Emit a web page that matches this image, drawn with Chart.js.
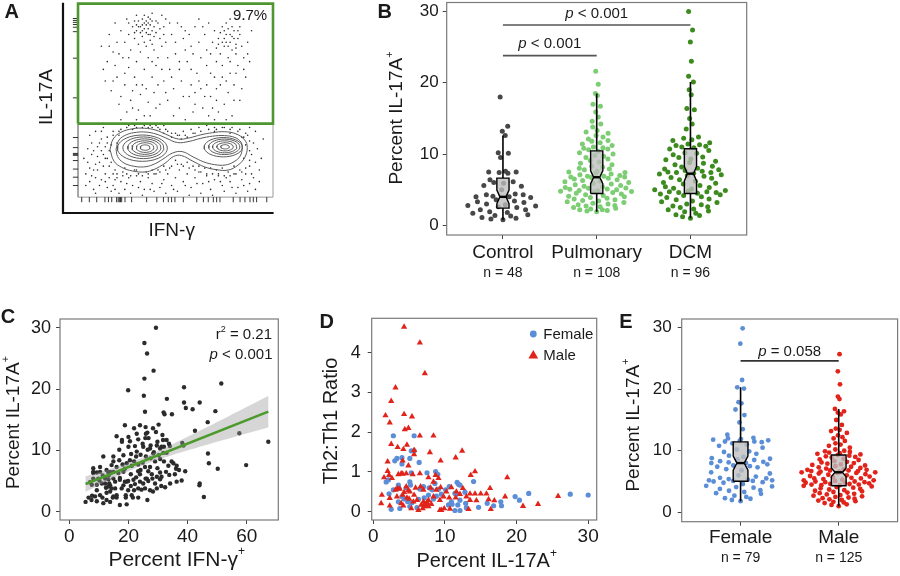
<!DOCTYPE html>
<html>
<head>
<meta charset="utf-8">
<script src="https://cdn.jsdelivr.net/npm/chart.js@4.4.1/dist/chart.umd.min.js"></script>
<style>
  html, body { margin: 0; background: #fff; overflow: hidden; }
  #wrap { position: relative; width: 900px; height: 576px; }
  canvas { position: absolute; left: 0; top: 0; }
</style>
</head>
<body>
<div id="wrap">
  <canvas id="cA" width="900" height="576"></canvas>
  <canvas id="cB" width="900" height="576"></canvas>
  <canvas id="cC" width="900" height="576"></canvas>
  <canvas id="cD" width="900" height="576"></canvas>
  <canvas id="cE" width="900" height="576"></canvas>
</div>
<script>
// ---------- panel A: flow plot (arbitrary 0-100 units) ----------
const gateLabel = '9.7%';
const gateDots = [[32,88],[34,90],[36,87],[38,91],[35,85],[30,86],[33,83],[37,84],[39,88],[31,91],[36,93],[34,80],[40,85],[29,82],[38,79],[35,89],[33,92],[37,89],[41,90],[28,88],[26,84],[31,79],[42,82],[44,88],[39,76],[27,76],[24,80],[45,92],[22,86],[43,78],[36,72],[30,70],[34,66],[38,62],[33,58],[29,62],[40,68],[26,67],[32,53],[36,49],[31,45],[37,42],[35,56],[28,55],[41,58],[23,72],[20,62],[18,75],[15,70],[17,55],[21,48],[25,44],[14,60],[12,78],[19,90],[48,84],[51,90],[54,82],[50,74],[56,70],[47,66],[53,60],[58,78],[60,88],[62,92],[57,52],[52,46],[46,50],[49,42],[55,40],[61,64],[63,72],[65,84],[67,90],[70,86],[72,82],[74,88],[76,84],[78,80],[80,86],[75,78],[73,74],[79,76],[82,82],[77,72],[71,70],[84,78],[81,74],[76,90],[69,80],[74,68],[78,64],[82,68],[85,72],[87,80],[83,88],[70,62],[73,58],[77,54],[80,58],[75,48],[72,44],[79,42],[83,50],[86,62],[68,52],[66,58],[64,46],[67,42],[71,50],[58,58],[60,48],[44,60],[42,48],[46,72],[39,54],[24,58],[27,50],[16,84],[13,66],[22,40],[30,40],[88,70],[89,86],[85,92],[78,92],[66,76],[62,80],[55,86],[43,94],[38,95],[30,94],[25,92],[20,80],[19,68],[26,72],[32,75],[41,72],[45,80],[49,56],[54,52],[59,44],[63,56],[69,46],[74,62],[81,64],[84,56],[76,40],[70,40],[52,66],[35,78],[37,81],[33,86],[29,91],[39,83],[42,87],[73,85],[77,87],[75,82],[79,83],[71,77],[81,79],
  [33,89],[35,91],[36,84],[32,85],[34,87],[38,86],[30,89],[37,92],[34,94],[31,88],[40,91],[29,85],[36,90],[78,84],[80,82],[76,80],[82,86],[74,80],[79,88],[77,78],[83,84],[75,86],[81,77],[72,79],[78,70],[26,90],[44,84],[47,90],[50,80],[53,88],[57,84],[59,74],[64,88],[66,68],[68,74],[55,76],[52,70],[48,62],[45,54],[40,46],[34,42],[28,46],[22,52],[18,60],[16,78],[21,74],[24,64],[30,58],[43,66],[38,70],[62,60],[65,52],[60,54],[71,56],[76,60],[80,50],[85,66],[87,74],[68,64],[58,66]];
const lowerDots = [[5,18],[7,22],[8,14],[10,26],[9,10],[11,18],[12,30],[13,22],[14,12],[6,8],[8,4],[11,6],[13,16],[12,34],[15,28],[14,8],[10,14],[7,28],[4,12],[9,2],[16,10],[18,6],[20,12],[22,8],[24,4],[26,10],[28,6],[30,11],[32,8],[34,4],[36,10],[38,7],[40,12],[42,5],[44,9],[46,12],[48,6],[50,10],[52,14],[54,8],[56,12],[58,5],[60,10],[62,13],[64,7],[66,11],[68,4],[70,9],[72,12],[74,6],[76,10],[78,8],[80,12],[82,5],[84,9],[86,12],[88,7],[90,10],[17,3],[21,2],[27,2],[33,1],[39,3],[45,2],[51,3],[57,1],[63,2],[69,1],[75,3],[81,2],[87,3],[19,9],[23,13],[29,14],[35,13],[41,14],[47,15],[53,17],[59,16],[65,15],[71,14],[77,13],[83,14],[88,16],[89,22],[90,28],[87,32],[91,18],[92,25],[89,12],[18,32],[22,35],[26,37],[30,36],[34,37],[38,36],[42,35],[46,34],[50,33],[54,34],[58,35],[62,36],[66,37],[70,36],[74,36],[78,35],[82,34],[85,31],[20,28],[16,24],[48,31],[53,30],[56,31],[40,37],[44,37],[36,38],[32,38],[28,38],[60,38],[64,38],[17,18],[19,14],[24,15],[30,14],[38,14],[44,16],[50,19],[56,18],[62,16],[68,15],[74,15],[80,16],[85,20],[86,27],[84,31],[78,33],[70,34],[60,33],[52,32],[44,33],[36,36],[28,35],[21,32],[17,27],
  [15,20],[16,16],[18,12],[20,10],[23,11],[25,12],[27,11],[31,12],[33,11],[36,12],[39,12],[42,13],[45,14],[48,16],[51,17],[54,16],[57,15],[60,14],[63,13],[66,12],[69,12],[72,11],[75,11],[78,11],[81,12],[84,13],[86,15],[88,19],[88,24],[88,29],[86,33],[83,35],[79,36],[75,36],[71,35],[67,35],[63,34],[59,33],[55,32],[51,32],[48,33],[45,35],[41,36],[37,37],[33,36],[29,37],[25,36],[21,34],[18,34],[15,31],[14,26],[14,20],[12,24],[11,28],[10,21],[9,17],[8,24],[6,15],[5,25],[3,20],[6,32],[9,34],[13,36],[4,6],[7,11],[12,9],[15,5],[19,4],[25,7],[31,5],[37,4],[43,7],[49,4],[55,6],[61,7],[67,8],[73,8],[79,5],[85,6],[91,4],[93,14],[94,20],[95,30],[91,34],[88,36],[93,8]];
// nested contour levels: [centre x, centre y, radius x, radius y]
const ringsLeft = [[34.4,25.6,2.5,1.4],[34.4,25.6,4.5,2.5],[34.2,25.6,6.5,3.5],[34,25.6,8.5,4.5],[33.5,25.5,10.5,5.6],[33,25.3,12.8,6.8]];
const ringsRight = [[75.4,26,2.2,1.1],[75.4,26,4.2,2.1],[75.2,26,6.2,3.1],[75,26,8,4],[74.5,25.8,9.8,5]];
const outerContours = [
  [[16.4,24.5],[18,30],[22,33.5],[28,35.3],[34,35.6],[40,34.6],[45,32.5],[51.5,30],[57,30.6],[63,32.2],[69,33.3],[75,33.8],[81,32.7],[85.5,29.5],[86.8,25.6],[85.5,20.5],[82,16.5],[77,14],[71,14.2],[65,15.6],[59,18.5],[53,21.5],[49,21],[44.6,17.5],[39,14.3],[34.4,13],[28,13.5],[22.4,15.4],[18.5,18.5],[16.4,24.5]],
  [[19.5,24.8],[21,29.5],[25,32.3],[30,33.5],[35,33.6],[40,32.6],[45,30.6],[51,28.2],[57,28.8],[63,30.4],[69,31.5],[75,31.8],[80.5,30.8],[83.5,28.5],[84.2,25.6],[83.2,21.3],[80,18.3],[75.5,16.6],[70,16.8],[64.5,18.2],[59,20.8],[53.5,23.5],[48.5,22.8],[43.5,19.6],[38.5,16.8],[33.5,15.6],[27.5,16.2],[23,18],[20.3,21],[19.5,24.8]]
];
const ticksLeftA = [92.3,91.3,90.3,89.2,87.8,85.5,71.8,51.3,30.8,25.6,22.6,22.1,21.6,18.9,14.5,10.3,6.0];
const ticksBottomA = [1.9,5.8,9.6,13.8,15.6,17.3,19.8,20.6,21.2,21.8,22.4,24.1,27.5,35.2,40.4,43.8,46.3,48.0,49.7,54.0,60.9,64.3,66.8,69.4,71.1,72.8,79.6,83.1,85.6,88.2,89.9,91.6,96.8];

// ---------- panel B ----------
const groupsB = ['Control', 'Pulmonary', 'DCM'];
const nLabelsB = ['n = 48', 'n = 108', 'n = 96'];
const controlPct = [18.0,13.9,13.2,12.6,10.2,10.1,9.5,7.6,7.5,7.5,7.3,7.4,6.4,6.1,6.0,5.9,5.6,5.5,4.4,4.3,4.3,4.1,4.0,4.0,3.9,3.6,3.4,3.2,3.0,2.9,2.8,2.7,2.6,2.5,2.2,2.2,1.9,1.8,1.7,1.5,1.4,1.3,1.1,1.0,0.9,0.8,5.0,3.3];
const pulmonaryPct = [21.6,19.8,18.5,18.2,17.0,16.7,15.9,15.2,14.6,14.2,13.8,13.3,13.1,12.9,12.6,12.4,12.1,11.9,11.8,11.6,11.4,11.2,11.0,10.9,10.8,10.7,10.6,
  10.4,10.2,10.0,9.8,9.7,9.5,9.3,9.1,8.9,8.7,8.5,8.3,8.2,8.0,7.9,7.8,7.6,7.5,7.4,7.3,7.2,7.1,7.0,6.9,6.9,6.8,6.8,
  6.7,6.6,6.5,6.4,6.3,6.2,6.1,6.0,5.9,5.8,5.7,5.6,5.5,5.4,5.3,5.25,5.2,5.1,5.05,5.0,4.9,4.85,4.8,4.75,4.7,4.6,4.5,
  4.4,4.3,4.2,4.1,4.0,3.9,3.8,3.7,3.6,3.5,3.4,3.3,3.2,3.1,3.0,2.9,2.8,2.7,2.6,2.5,2.4,2.3,2.2,2.2,2.1,2.0,1.9];
const dcmPct = [30.0,27.4,25.7,23.0,20.9,20.1,19.0,18.3,16.4,16.2,15.0,14.2,13.5,12.4,12.2,12.0,11.9,11.6,11.4,11.3,11.2,11.1,11.0,10.9,
  10.7,10.5,10.2,10.1,9.9,9.6,9.5,9.3,9.2,9.0,8.8,8.7,8.5,8.3,8.2,8.0,7.9,7.8,7.7,7.6,7.5,7.4,7.4,7.3,
  7.2,7.1,7.0,6.9,6.7,6.6,6.4,6.2,6.0,5.9,5.8,5.6,5.4,5.3,5.2,5.1,5.0,4.9,4.8,4.7,4.7,4.6,4.6,4.5,
  4.4,4.3,4.2,4.0,3.9,3.7,3.6,3.4,3.3,3.2,3.0,2.9,2.7,2.6,2.5,2.3,2.2,2.0,1.9,1.7,1.5,1.4,1.2,1.0];
const colorsB = ['#474747', '#7ccd73', '#3d8b1f'];
const ticksPct = [0, 10, 20, 30];

// ---------- panel C ----------
const ifngVsIl17 = [[29.3,30.0],[25.4,27.5],[26.3,25.8],[28.5,23.0],[25.4,21.7],[19.9,19.8],[38.8,20.3],[51.4,20.9],[25.2,18.9],[33.0,18.4],[38.8,17.8],[39.4,16.9],[44.1,17.8],[41.7,16.7],[49.4,16.4],[25.6,16.3],[31.9,16.2],[32.2,15.9],[34.7,15.9],[46.8,14.6],[57.5,12.8],[67.3,11.4],[59.8,7.6],[45.5,2.4],[50.2,7.0],[46.9,9.5],[47.2,7.9],[44.1,4.6],[44.0,4.3],[42.5,13.2],[38.2,11.2],[38.6,10.8],[39.2,6.6],[38.0,5.1],
[18.8,14.1],[17.8,11.7],[17.8,11.4],[16.0,12.3],[20.0,10.6],[21.9,13.6],[22.8,12.7],[23.9,14.1],[25.8,13.8],[26.4,12.9],[26.8,12.0],[28.3,13.6],[30.2,14.2],[29.3,13.0],[31.5,12.5],[31.7,11.7],[32.9,11.7],[33.7,11.1],[34.0,10.7],[31.2,10.6],[29.6,10.8],[25.0,10.6],[26.5,10.1],[28.6,9.7],[30.2,9.2],[31.8,9.6],[32.9,9.6],[22.8,9.8],[20.9,9.4],[18.3,9.2],[16.9,8.4],[14.9,8.2],[11.5,9.0],[8.1,7.1],[8.1,6.5],[10.4,6.5],[12.6,6.8],[13.4,6.0],[14.9,6.5],[16.6,6.3],[18.8,7.0],[19.4,7.9],[21.1,7.5],[21.9,8.2],[23.3,7.7],[24.8,8.0],[25.6,7.3],[24.1,6.8],[26.7,6.6],[27.3,7.3],[29.0,8.2],[29.8,7.1],[30.7,6.4],[32.0,8.2],[33.5,7.5],[35.2,7.9],[36.3,7.5],[37.1,6.8],[36.1,7.0],[30.7,5.3],[31.1,4.2],[32.4,4.0],[29.0,4.6],[28.1,5.4],[26.7,5.0],[25.6,3.8],[24.4,3.6],[23.3,3.8],[22.2,4.5],[20.8,4.2],[19.9,5.0],[19.1,2.7],[19.1,2.3],[17.1,1.1],[19.4,1.2],[21.1,2.7],[21.5,2.3],[23.3,2.3],[26.4,1.9],[27.3,3.5],[29.6,3.8],[25.8,5.4],[16.0,2.7],[16.0,2.3],[14.9,2.5],[13.8,3.3],[12.6,3.1],[13.2,4.1],[13.8,4.3],[12.4,3.9],[14.3,3.8],[13.5,4.6],[15.5,4.9],[17.1,5.5],[14.9,5.4],[12.1,5.4],[11.0,4.6],[9.8,5.4],[8.1,6.3],[9.3,3.5],[10.4,2.7],[11.2,2.3],[11.5,1.4],[9.3,1.7],[7.7,2.6],[6.5,2.3],[5.5,1.6],[7.5,1.9],[8.7,2.5],[12.6,1.9],[13.8,1.6],[14.7,2.3],[9.3,6.4],[7.0,4.8],[7.6,4.4],[10.2,5.1],[11.3,5.9],[13.2,6.4],[16.0,7.3],[18.3,6.5],[20.8,6.1],[22.6,5.6],[17.1,5.2],[19.4,4.9],[23.9,6.1],[25.0,4.6],[27.9,6.1],[20.5,8.4],[22.6,9.0],[24.1,9.3],[25.9,9.0],[27.5,8.7],[30.7,8.6],[18.0,7.7],[14.3,7.6],[13.2,5.3],[12.1,4.6],[15.5,3.8],[17.7,3.8],[18.3,4.3],[21.7,5.2],[23.9,4.9],[9.3,4.4],[8.1,5.4],[10.4,7.3],[13.8,6.5],[14.9,9.0],[16.9,10.1],[20.5,11.5],[24.8,11.1],[27.5,10.8],[29.8,11.4],[32.0,10.6],[22.2,10.7],[23.3,11.8],[25.7,12.0],[25.9,12.7],[20.0,12.2],[32.7,6.5],[29.6,5.7],[34.1,4.6],[33.8,6.0],[31.2,5.7],[26.2,5.4],[23.3,6.6],[18.8,4.9],[19.9,3.5],[21.9,3.5],[28.3,3.3],[35.7,6.1],[36.3,4.9],[34.6,8.2],[30.7,10.3],[28.4,9.5],[27.3,10.3]];
const ticksIfng = [0, 20, 40, 60];

// ---------- panel D ----------
const femaleRatio = [[2.8,1.91],[5.7,1.91],[5.7,1.53],[5.3,1.53],[5.1,1.34],[4.0,1.36],[3.3,1.34],[3.0,1.28],[4.0,1.20],[6.4,1.24],[7.5,0.98],[8.7,1.01],[9.0,0.94],[5.3,0.98],[2.1,0.80],[1.8,0.75],[5.1,0.75],[5.2,0.67],[3.6,0.59],[2.8,0.55],[6.5,0.57],[7.8,0.60],[8.2,0.55],[9.1,0.57],[10.6,0.63],[10.1,0.55],[11.7,0.74],[11.9,0.69],[11.4,0.46],[11.6,0.44],[12.8,0.49],[14.0,0.76],[2.2,0.45],[4.0,0.38],[4.3,0.32],[4.8,0.25],[3.5,0.25],[5.4,0.23],[6.3,0.31],[7.1,0.35],[7.7,0.42],[8.4,0.32],[8.8,0.39],[9.5,0.44],[10.9,0.25],[11.0,0.19],[12.1,0.29],[11.8,0.17],[12.9,0.21],[13.0,0.10],[14.7,0.11],[15.9,0.21],[16.8,0.15],[17.8,0.25],[17.9,0.15],[19.8,0.38],[20.4,0.29],[21.7,0.46],[27.5,0.44],[30.0,0.42],[2.5,0.06],[3.7,0.08],[5.1,0.13],[6.1,0.10],[11.4,0.03],[12.1,0.03],[10.5,0.17],[4.6,0.60],[7.0,0.63],[3.5,0.67],[8.6,0.71],[12.1,0.67]];
const maleRatio = [[4.3,4.65],[6.5,4.25],[7.2,3.48],[3.1,3.12],[2.5,2.78],[1.7,2.42],[2.3,2.24],[4.3,2.45],[5.4,2.39],[4.4,2.07],[4.9,2.10],[6.5,1.91],[8.4,1.91],[2.5,1.70],[3.4,1.62],[4.2,1.57],[4.7,1.68],[5.7,1.55],[5.7,1.44],[7.9,1.49],[9.4,1.28],[11.5,1.36],[12.4,1.53],[2.0,1.26],[4.1,1.28],[4.9,1.16],[2.0,1.02],[2.2,0.92],[1.5,0.86],[2.6,0.84],[3.5,0.94],[3.9,0.96],[4.1,0.95],[4.6,0.96],[5.5,0.94],[6.5,0.96],[7.7,0.86],[9.1,0.84],[8.7,0.92],[13.6,0.92],[14.2,1.01],[18.7,0.86],[3.4,0.59],[3.7,0.57],[4.6,0.63],[4.9,0.54],[5.9,0.60],[6.6,0.63],[7.0,0.55],[8.0,0.60],[8.4,0.75],[9.4,0.61],[11.6,0.50],[12.5,0.59],[13.5,0.45],[14.2,0.45],[15.0,0.45],[15.8,0.45],[16.3,0.59],[1.2,0.42],[2.3,0.34],[3.3,0.38],[4.1,0.42],[4.7,0.35],[5.0,0.32],[5.7,0.42],[6.1,0.29],[7.0,0.25],[7.2,0.20],[6.7,0.17],[7.7,0.29],[8.4,0.38],[9.3,0.29],[9.8,0.38],[10.6,0.35],[11.5,0.35],[12.1,0.44],[13.0,0.38],[13.5,0.29],[14.4,0.28],[16.1,0.31],[16.9,0.28],[18.4,0.38],[20.9,0.14],[23.0,0.19],[25.8,0.39],[16.4,0.06],[13.3,0.06],[2.3,0.15],[1.1,0.21],[4.2,0.15],[5.3,0.08],[6.3,0.04],[6.9,0.08],[7.1,0.13],[7.4,0.17],[7.7,0.13],[9.5,0.04],[9.3,0.04],[9.9,0.08],[10.7,0.07],[7.5,0.24],[8.1,0.19],[5.6,0.25],[3.9,0.21],[5.1,0.50],[3.1,0.55],[4.3,0.49],[8.8,0.55],[10.2,0.50],[10.9,0.61]];
const ticksRatio = [0, 1, 2, 3, 4];
const ticksIl17 = [0, 10, 20, 30];

// ---------- panel E ----------
const groupsE = ['Female', 'Male'];
const nLabelsE = ['n = 79', 'n = 125'];
const femalePct = [29.9,27.4,21.5,20.3,20.1,17.9,17.7,16.7,15.8,14.6,13.5,12.6,12.1,12.0,11.9,11.8,11.7,11.6,11.5,11.5,
  11.4,11.2,11.0,10.8,10.5,10.2,9.9,9.8,9.5,9.2,9.0,8.8,8.7,8.6,8.5,8.3,8.2,8.1,8.0,8.0,
  7.8,7.6,7.5,7.4,7.3,7.0,6.8,6.5,6.3,6.0,5.8,5.6,5.5,5.4,5.3,5.2,5.2,5.1,5.1,
  5.0,4.9,4.8,4.6,4.3,4.2,4.1,4.0,3.8,3.6,3.5,3.3,3.1,3.0,2.7,2.5,2.3,2.2,2.0,1.8];
const malePct = [25.7,22.9,20.8,18.8,18.4,16.8,16.4,16.2,15.9,15.0,14.2,13.6,13.4,13.2,12.9,12.5,12.2,12.0,11.6,11.2,11.0,10.8,10.5,10.2,10.0,9.9,9.8,9.7,9.6,9.5,9.4,
  9.3,9.2,9.1,9.0,8.9,8.7,8.6,8.5,8.3,8.2,8.1,8.0,7.9,7.8,7.7,7.6,7.5,7.4,7.3,7.2,7.1,7.0,6.9,6.9,6.8,6.8,6.7,6.7,6.6,6.6,6.5,6.5,
  6.4,6.4,6.3,6.2,6.1,6.0,5.9,5.8,5.7,5.6,5.5,5.5,5.4,5.3,5.2,5.2,5.1,5.0,5.0,4.9,4.9,4.8,4.8,4.7,4.6,4.6,4.5,4.5,4.4,4.4,4.3,
  4.2,4.1,4.0,3.9,3.8,3.7,3.6,3.5,3.4,3.3,3.2,3.1,3.0,2.9,2.8,2.7,2.6,2.5,2.4,2.3,2.2,2.1,2.0,1.9,1.8,1.7,1.6,1.5,1.3,1.2,1.0];
const colorFemale = '#5b8ed6';
const colorMale = '#e2231a';

// ---------- helpers ----------
const FONT = "'Liberation Sans', Arial, Helvetica, sans-serif";
const INK = '#1a1a1a';
const f = (s, st) => (st ? st + ' ' : '') + s + 'px ' + FONT;
const xy = arr => arr.map(p => ({ x: p[0], y: p[1] }));

function fixSize(size) {
  return s => {
    if (s.isHorizontal()) s.height = size; else s.width = size;
    s.paddingTop = s.paddingBottom = s.paddingLeft = s.paddingRight = 0;
  };
}
function axis(min, max, ticks, size, pad, fontSize, cb) {
  return {
    type: 'linear', min, max,
    afterBuildTicks: s => { s.ticks = ticks.map(v => ({ value: v })); },
    afterFit: fixSize(size),
    ticks: { autoSkip: false, maxRotation: 0, padding: pad, color: INK, font: { family: FONT, size: fontSize }, callback: cb || (v => v) },
    grid: { drawOnChartArea: false, drawTicks: true, tickLength: 4, color: '#444', lineWidth: 1 },
    border: { display: false }
  };
}
const pts = (data, color, r, style, order) => ({ data, showLine: false, pointRadius: r, pointHoverRadius: r, pointStyle: style || 'circle', pointBackgroundColor: color, pointBorderColor: color, pointBorderWidth: 0, order });
const path = (data, color, w, order, extra) => Object.assign({ data, showLine: true, borderColor: color, borderWidth: w, pointRadius: 0, fill: false, tension: 0, order, clip: false }, extra || {});

function rich(ctx, x, y, parts, align, rot) {
  ctx.save();
  ctx.translate(x, y);
  if (rot) ctx.rotate(rot);
  ctx.textBaseline = 'middle';
  ctx.textAlign = 'left';
  ctx.fillStyle = INK;
  let w = 0;
  parts.forEach(p => { ctx.font = p[1]; w += ctx.measureText(p[0]).width; });
  let cx = align === 'center' ? -w / 2 : align === 'right' ? -w : 0;
  parts.forEach(p => { ctx.font = p[1]; ctx.fillText(p[0], cx, p[2] || 0); cx += ctx.measureText(p[0]).width; });
  ctx.restore();
}
function frame(chart) {
  const a = chart.chartArea, ctx = chart.ctx;
  ctx.save();
  ctx.strokeStyle = '#7a7a7a';
  ctx.lineWidth = 1.2;
  ctx.strokeRect(a.left, a.top, a.right - a.left, a.bottom - a.top);
  ctx.restore();
}
function quantile(s, p) {
  const h = (s.length - 1) * p, lo = Math.floor(h);
  const hi = Math.min(lo + 1, s.length - 1);
  return s[lo] + (h - lo) * (s[hi] - s[lo]);
}
// quasirandom jitter (van der Corput order, scaled by the group's density)
function quasirandom(vals, pos, width) {
  const n = vals.length, s = [...vals].sort((a, b) => a - b);
  const mean = s.reduce((a, v) => a + v, 0) / n;
  const sd = Math.sqrt(s.reduce((a, v) => a + (v - mean) ** 2, 0) / (n - 1));
  const iqr = quantile(s, 0.75) - quantile(s, 0.25);
  const bw = 0.5 * 0.9 * Math.min(sd, iqr / 1.34) * Math.pow(n, -0.2);
  const dens = v => s.reduce((a, u) => a + Math.exp(-0.5 * ((v - u) / bw) ** 2), 0);
  const dv = s.map(dens), dmax = Math.max(...dv);
  const vdc = k => { let r = 0, b = 0.5; while (k > 0) { if (k & 1) r += b; k >>= 1; b /= 2; } return r; };
  return s.map((v, rank) => ({ x: pos + (vdc(rank + 1) - 0.5) * 2 * width * dv[rank] / dmax, y: v }));
}
function boxDatasets(pos, vals, hw) {
  const s = [...vals].sort((a, b) => a - b);
  const q1 = quantile(s, 0.25), med = quantile(s, 0.5), q3 = quantile(s, 0.75), iqr = q3 - q1;
  const lo = s.find(v => v >= q1 - 1.5 * iqr);
  const hi = [...s].reverse().find(v => v <= q3 + 1.5 * iqr);
  const nt = 1.58 * iqr / Math.sqrt(s.length);
  const outline = [[-1, q1], [1, q1], [1, med - nt], [0.5, med], [1, med + nt], [1, q3], [-1, q3], [-1, med + nt], [-0.5, med], [-1, med - nt], [-1, q1]]
    .map(([dx, y]) => ({ x: pos + dx * hw, y }));
  return [
    path([{ x: pos, y: lo }, { x: pos, y: q1 }, { x: pos, y: null }, { x: pos, y: q3 }, { x: pos, y: hi }], '#000', 1.6, 4, { spanGaps: false }),
    path(outline, '#000', 1.4, 3, { fill: 'shape', backgroundColor: 'rgba(190,190,190,0.78)' }),
    path([{ x: pos - hw * 0.5, y: med }, { x: pos + hw * 0.5, y: med }], '#000', 2.4, 2)
  ];
}
function makeChart(id, area, yW, xH, datasets, scales, deco) {
  return new Chart(document.getElementById(id), {
    type: 'line',
    data: { datasets },
    options: {
      responsive: false, animation: false, events: [],
      layout: { padding: { left: area[0] - yW, top: area[1], right: 900 - area[2], bottom: 576 - area[3] - xH } },
      plugins: { legend: { display: false }, tooltip: { enabled: false } },
      scales
    },
    plugins: [{ id: 'deco', afterDraw: c => deco(c, c.ctx) }]
  });
}
const pctTitle = size => [['Percent IL-17A', f(size)], ['+', f(Math.round(size * 0.6)), -size * 0.38]];

// ---------- A ----------
const ring = ([cx, cy, rx, ry]) => Array.from({ length: 37 }, (_, k) => ({ x: cx + rx * Math.cos(k * Math.PI / 18), y: cy + ry * Math.sin(k * Math.PI / 18) }));
const dsA = [
  pts(xy(gateDots.concat(lowerDots)), '#2a2a2a', 0.8, 'circle', 9),
  ...ringsLeft.concat(ringsRight).map(r => path(ring(r), '#5a5a5a', 1, 8)),
  ...outerContours.map(c => path(xy(c), '#5a5a5a', 1, 8, { tension: 0.4 })),
  path(xy([[0, 0], [100, 0], [100, 100], [0, 100], [0, 0]]), '#9a9a9a', 1, 7),
  Object.assign(pts(ticksLeftA.map(v => ({ x: -1.3, y: v })), '#333', 2.6, 'line', 6), { pointBorderWidth: 1, clip: false }),
  Object.assign(pts(ticksBottomA.map(v => ({ x: v, y: -1.3 })), '#333', 2.6, 'line', 6), { pointBorderWidth: 1, pointRotation: 90, clip: false }),
  path(xy([[0, 38], [100, 38], [100, 100], [0, 100], [0, 38]]), '#4f9631', 2.6, 1),
  path(xy([[-7.7, 100.5], [-7.7, -8.2], [100.3, -8.2]]), '#111', 2.2, 0)
];
makeChart('cA', [63, 2, 273, 213], 0, 0, dsA, {
  x: { type: 'linear', display: false, min: -7.7, max: 100 },
  y: { type: 'linear', display: false, min: -8.2, max: 100 }
}, (c, ctx) => {
  rich(ctx, 11.7, 12, [['A', f(20, 'bold')]], 'center');
  rich(ctx, 250, 15.5, [[gateLabel, f(15)]], 'center');
  rich(ctx, 47, 97, [['IL-17A', f(19)]], 'center', -Math.PI / 2);
  rich(ctx, 171.7, 231, [['IFN-\u03b3', f(19)]], 'center');
});

// ---------- B ----------
const valsB = [controlPct, pulmonaryPct, dcmPct];
const bracketsB = [[1, 3, 28.1, 'p', ' < 0.001'], [1, 2, 23.8, 'p', ' < 0.001']];
const dsB = [];
valsB.forEach((v, i) => {
  dsB.push(pts(quasirandom(v, i + 1, 0.4), colorsB[i], 2.5, 'circle', 5));
  dsB.push(...boxDatasets(i + 1, v, 0.065));
});
bracketsB.forEach(b => dsB.push(path([{ x: b[0], y: b[2] }, { x: b[1], y: b[2] }], '#555', 1.6, 1)));
makeChart('cB', [446.7, 1, 746.7, 235], 50, 40, dsB, {
  x: axis(0.4, 3.6, [1, 2, 3], 40, 2, 19, v => groupsB[v - 1]),
  y: axis(-1.35, 31.25, ticksPct, 50, 4, 17)
}, (c, ctx) => {
  frame(c);
  const sx = c.scales.x, sy = c.scales.y;
  rich(ctx, 384.7, 12, [['B', f(20, 'bold')]], 'center');
  rich(ctx, 397, 118, pctTitle(19), 'center', -Math.PI / 2);
  nLabelsB.forEach((t, i) => rich(ctx, sx.getPixelForValue(i + 1), 273.3, [[t, f(14)]], 'center'));
  bracketsB.forEach(b => rich(ctx, sx.getPixelForValue((b[0] + b[1]) / 2), sy.getPixelForValue(b[2]) - 11.5,
    [[b[3], f(15, 'italic')], [b[4], f(15)]], 'center'));
});

// ---------- C ----------
function linFit(pairs) {
  const n = pairs.length;
  const mx = pairs.reduce((a, p) => a + p[0], 0) / n, my = pairs.reduce((a, p) => a + p[1], 0) / n;
  let sxx = 0, sxy = 0;
  pairs.forEach(p => { sxx += (p[0] - mx) ** 2; sxy += (p[0] - mx) * (p[1] - my); });
  const b = sxy / sxx, a = my - b * mx;
  let sse = 0;
  pairs.forEach(p => { sse += (p[1] - a - b * p[0]) ** 2; });
  const s = Math.sqrt(sse / (n - 2));
  return { a, b, se: x => s * Math.sqrt(1 / n + (x - mx) ** 2 / sxx) };
}
const fitC = linFit(ifngVsIl17);
const xsC = ifngVsIl17.map(p => p[0]);
const x0 = Math.min(...xsC), x1 = Math.max(...xsC);
const gridC = Array.from({ length: 41 }, (_, k) => x0 + (x1 - x0) * k / 40);
const upperC = gridC.map(x => ({ x, y: fitC.a + fitC.b * x + 1.97 * fitC.se(x) }));
const lowerC = gridC.map(x => ({ x, y: fitC.a + fitC.b * x - 1.97 * fitC.se(x) })).reverse();
const dsC = [
  pts(xy(ifngVsIl17), '#2b2b2b', 2.2, 'circle', 3),
  path(upperC.concat(lowerC), 'rgba(0,0,0,0)', 0, 2, { fill: 'shape', backgroundColor: 'rgba(153,153,153,0.4)' }),
  path([{ x: x0, y: fitC.a + fitC.b * x0 }, { x: x1, y: fitC.a + fitC.b * x1 }], '#4d9a2c', 2.6, 1)
];
makeChart('cC', [60, 319, 278.3, 520], 45, 40, dsC, {
  x: axis(-3.15, 70.68, ticksIfng, 40, 1, 19),
  y: axis(-1.35, 31.42, ticksPct, 45, 5, 18)
}, (c, ctx) => {
  frame(c);
  rich(ctx, 8, 317, [['C', f(20, 'bold')]], 'center');
  rich(ctx, 13.3, 422.5, pctTitle(19), 'center', -Math.PI / 2);
  rich(ctx, 176.7, 560, [['Percent IFN-\u03b3', f(21)], ['+', f(12), -8]], 'center');
  rich(ctx, 272, 335, [['r', f(15)], ['2', f(9), -5], [' = 0.21', f(15)]], 'right');
  rich(ctx, 272.5, 355, [['p', f(15, 'italic')], [' < 0.001', f(15)]], 'right');
});

// ---------- D ----------
const dsD = [
  pts(xy(maleRatio), colorMale, 3.6, 'triangle', 1),
  pts(xy(femaleRatio), colorFemale, 2.6, 'circle', 2)
];
makeChart('cD', [371.7, 318.3, 596.7, 520], 45, 40, dsD, {
  x: axis(-0.223, 31.19, ticksIl17, 40, 1, 19),
  y: axis(-0.209, 4.865, ticksRatio, 45, 7, 18)
}, (c, ctx) => {
  frame(c);
  rich(ctx, 326.7, 322, [['D', f(20, 'bold')]], 'center');
  rich(ctx, 331.7, 421, [['Th2:Th1 Ratio', f(20)]], 'center', -Math.PI / 2);
  rich(ctx, 486.7, 561, pctTitle(20), 'center');
  ctx.save();
  ctx.fillStyle = colorFemale;
  ctx.beginPath(); ctx.arc(533.3, 334, 3.4, 0, 2 * Math.PI); ctx.fill();
  ctx.fillStyle = colorMale;
  ctx.beginPath(); ctx.moveTo(533.3, 350); ctx.lineTo(538.2, 358.5); ctx.lineTo(528.4, 358.5); ctx.closePath(); ctx.fill();
  ctx.restore();
  rich(ctx, 543.3, 334.5, [['Female', f(15)]], 'left');
  rich(ctx, 543.3, 355.5, [['Male', f(15)]], 'left');
});

// ---------- E ----------
const valsE = [femalePct, malePct];
const colorsE = [colorFemale, colorMale];
const bracketE = [1, 2, 24.6, 'p', ' = 0.058'];
const dsE = [];
valsE.forEach((v, i) => {
  dsE.push(pts(quasirandom(v, i + 1, 0.4), colorsE[i], 2.4, 'circle', 5));
  dsE.push(...boxDatasets(i + 1, v, 0.075));
});
dsE.push(path([{ x: bracketE[0], y: bracketE[2] }, { x: bracketE[1], y: bracketE[2] }], '#333', 1.6, 1));
makeChart('cE', [681.7, 319, 898.3, 521.7], 50, 40, dsE, {
  x: axis(0.4, 2.6, [1, 2], 40, 1, 19, v => groupsE[v - 1]),
  y: axis(-1.53, 31.41, ticksPct, 50, 6, 17)
}, (c, ctx) => {
  frame(c);
  const sx = c.scales.x, sy = c.scales.y;
  rich(ctx, 626, 322, [['E', f(20, 'bold')]], 'center');
  rich(ctx, 633.3, 425, pctTitle(19), 'center', -Math.PI / 2);
  nLabelsE.forEach((t, i) => rich(ctx, sx.getPixelForValue(i + 1), 558, [[t, f(14)]], 'center'));
  rich(ctx, sx.getPixelForValue(1.5), sy.getPixelForValue(bracketE[2]) - 9.5,
    [[bracketE[3], f(15, 'italic')], [bracketE[4], f(15)]], 'center');
});
</script>
</body>
</html>
